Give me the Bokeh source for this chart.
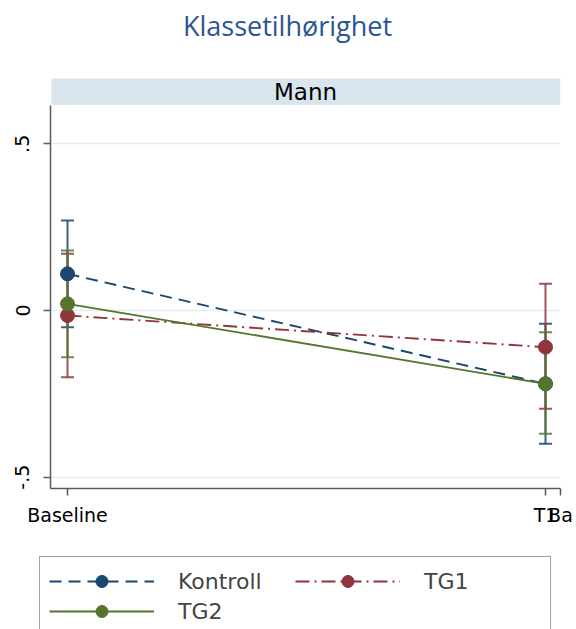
from bokeh.plotting import figure
from bokeh.layouts import column
from bokeh.models import Label, BoxAnnotation, Legend, LegendItem, FixedTicker, Range1d
from bokeh.embed import file_html
from bokeh.resources import INLINE

# ---- data ----
title_text = "Klassetilhørighet"
panel_text = "Mann"
periods = ["Baseline", "T1"]
period_x = [0, 1]
neighbour_label = "Ba"          # clipped first label of the next panel
y_ticks = [-0.5, 0, 0.5]
y_tick_labels = ["-.5", "0", ".5"]

groups = ["Kontroll", "TG1", "TG2"]
kontroll_mean = [0.11, -0.22]
kontroll_lo = [-0.05, -0.40]
kontroll_hi = [0.27, -0.04]
tg1_mean = [-0.015, -0.11]
tg1_lo = [-0.20, -0.295]
tg1_hi = [0.17, 0.08]
tg2_mean = [0.02, -0.22]
tg2_lo = [-0.14, -0.37]
tg2_hi = [0.18, -0.065]

colors = ["#1a476f", "#90353b", "#55752f"]
dashes = ["12 7", "14 5 2 5", "solid"]
FONT = "DejaVu Sans"
W = 576
LEFT, RIGHT = 50, 16
HEAD_H, MAIN_H = 105, 450
LEG_H = 629 - HEAD_H - MAIN_H

# ---- header: title + strip (data units = page pixels) ----
head = figure(width=W, height=HEAD_H, output_backend="svg", toolbar_location=None,
              title=None, x_axis_type=None, y_axis_type=None,
              x_range=Range1d(LEFT, W - RIGHT), y_range=Range1d(0, HEAD_H),
              min_border_left=LEFT, min_border_right=RIGHT,
              min_border_top=0, min_border_bottom=0)
head.outline_line_color = None
head.grid.grid_line_color = None
head.add_layout(BoxAnnotation(left=51, right=560, bottom=0, top=27,
                              fill_color="#d9e5ec", fill_alpha=1, line_color=None))
head.add_layout(Label(x=305, y=13.5, text=panel_text, text_font=FONT,
                      text_font_size="23px", text_align="center",
                      text_baseline="middle", text_color="black"))
head.add_layout(Label(x=287, y=80, text=title_text, text_font="Open Sans",
                      text_font_size="27px", text_align="center",
                      text_baseline="middle", text_color="#2b5592"))

# ---- main panel ----
x_end = 1.0314
p = figure(width=W, height=MAIN_H, output_backend="svg", toolbar_location=None,
           title=None,
           x_range=Range1d(-0.0356, x_end), y_range=Range1d(-0.534, 0.615),
           min_border_left=LEFT, min_border_right=RIGHT, min_border_top=0,
           min_border_bottom=MAIN_H - 383)
p.outline_line_color = None
p.xgrid.grid_line_color = None
p.ygrid.grid_line_color = "#e3eef0"
p.ygrid.grid_line_width = 1.5
p.ygrid.ticker = FixedTicker(ticks=y_ticks)

x_ticks = period_x + [x_end - 0.0001]
x_labels = periods + [neighbour_label]
p.xaxis.ticker = FixedTicker(ticks=x_ticks)
p.xaxis.major_label_overrides = {x: lab for x, lab in zip(x_ticks, x_labels)}
p.yaxis.ticker = FixedTicker(ticks=y_ticks)
p.yaxis.major_label_overrides = {t: lab for t, lab in zip(y_ticks, y_tick_labels)}
p.yaxis.major_label_orientation = "vertical"
for ax in (p.xaxis, p.yaxis):
    ax.axis_line_color = "#5a5a5a"
    ax.axis_line_width = 1.5
    ax.major_tick_line_color = "#5a5a5a"
    ax.major_tick_line_width = 1.5
    ax.major_tick_out = 7
    ax.major_tick_in = 0
    ax.minor_tick_line_color = None
    ax.major_label_text_font = FONT
    ax.major_label_text_font_size = "19px"
    ax.major_label_text_color = "black"
p.xaxis.major_label_standoff = 8
p.yaxis.major_label_standoff = 14

means = [kontroll_mean, tg1_mean, tg2_mean]
los = [kontroll_lo, tg1_lo, tg2_lo]
his = [kontroll_hi, tg1_hi, tg2_hi]

for m, lo, hi, c in zip(means, los, his, colors):
    p.segment(x0=period_x, y0=lo, x1=period_x, y1=hi, line_color=c,
              line_width=2, line_alpha=0.85)
    p.scatter(x=period_x + period_x, y=lo + hi, marker="dash", size=13,
              line_color=c, line_width=2, line_alpha=0.85)
for m, c, d in zip(means, colors, dashes):
    p.line(x=period_x, y=m, line_color=c, line_width=1.9, line_dash=d)
for m, c in zip(means, colors):
    p.scatter(x=period_x, y=m, size=14, marker="circle", fill_color=c, line_color=c)

# ---- legend panel (its own renderers lie outside its view) ----
lg = figure(width=W, height=LEG_H, output_backend="svg", toolbar_location=None,
            title=None, x_axis_type=None, y_axis_type=None,
            x_range=Range1d(10, 11), y_range=Range1d(10, 11), min_border=0)
lg.outline_line_color = None
lg.grid.grid_line_color = None
items = []
for g, m, c, d in zip(groups, means, colors, dashes):
    lr = lg.line(x=period_x, y=m, line_color=c, line_width=1.9, line_dash=d)
    pr = lg.scatter(x=period_x, y=m, size=14, marker="circle", fill_color=c, line_color=c)
    items.append(LegendItem(label=g, renderers=[lr, pr]))
legend = Legend(items=items, location=(39, -7), orientation="horizontal", ncols=2,
                glyph_width=105, glyph_height=30, label_height=30,
                label_standoff=24, label_width=117,
                label_text_font=FONT, label_text_font_size="22px",
                padding=9, spacing=0, margin=0,
                border_line_color="#444444", border_line_width=1.5,
                background_fill_color="white", background_fill_alpha=1)
lg.add_layout(legend, "center")

layout = column(head, p, column(lg, spacing=0), spacing=0)
open("out.html", "w").write(file_html(layout, INLINE))
